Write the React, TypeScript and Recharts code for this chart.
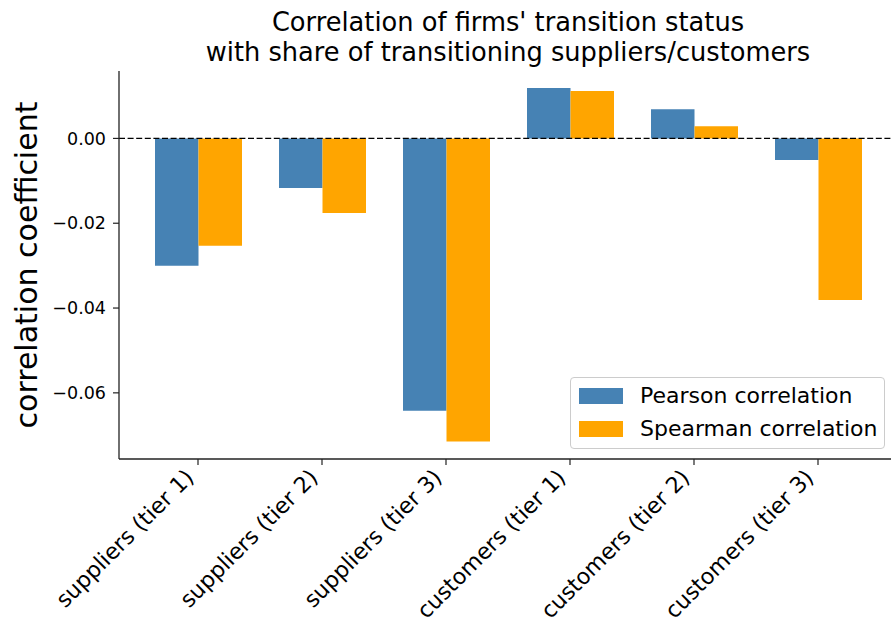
import { BarChart, Bar, XAxis, YAxis, ReferenceLine } from 'recharts';

const categories = [
  'suppliers (tier 1)',
  'suppliers (tier 2)',
  'suppliers (tier 3)',
  'customers (tier 1)',
  'customers (tier 2)',
  'customers (tier 3)',
];
const pearson = [-0.0300, -0.0117, -0.0642, 0.0119, 0.0069, -0.0051];
const spearman = [-0.0253, -0.0176, -0.0715, 0.0112, 0.0029, -0.0381];
const yTicks = [0, -0.02, -0.04, -0.06];
const yDomain = [-0.0756, 0.0159];
const seriesNames = ['Pearson correlation', 'Spearman correlation'];

const chartData = categories.map((name, i) => ({
  name,
  pearson: pearson[i],
  spearman: spearman[i],
}));

const FONT = '"DejaVu Sans", sans-serif';
const BLUE = '#4682b4';
const ORANGE = '#ffa500';

const fmtY = (v: number) => (v === 0 ? '0.00' : (v < 0 ? '\u2212' : '') + Math.abs(v).toFixed(2));

function CategoryTick({ x, y, payload }: any) {
  return (
    <text
      transform={`translate(${x - 3},${y + 14}) rotate(-45)`}
      textAnchor="end"
      fontFamily={FONT}
      fontSize={22.2}
      fill="#000"
    >
      {payload.value}
    </text>
  );
}

function LegendBox() {
  const colors = [BLUE, ORANGE];
  return (
    <div
      style={{
        position: 'absolute',
        left: 570,
        top: 377,
        width: 315,
        height: 72,
        border: '1px solid #cccccc',
        borderRadius: 4,
        background: 'rgba(255,255,255,0.8)',
        boxSizing: 'border-box',
        paddingTop: 2,
        fontFamily: FONT,
        fontSize: 22,
      }}
    >
      {seriesNames.map((label, i) => (
        <div key={label} style={{ display: 'flex', alignItems: 'center', height: 32.5 }}>
          <div style={{ width: 44, height: 16, background: colors[i], marginLeft: 8, marginRight: 17 }} />
          <span style={{ lineHeight: '32px', color: '#000' }}>{label}</span>
        </div>
      ))}
    </div>
  );
}

export default function App() {
  return (
    <div style={{ position: 'absolute', left: 0, top: 0, width: 891, height: 629, overflow: 'hidden', background: '#fff' }}>
      <div
        style={{
          position: 'absolute',
          left: 119,
          width: 778,
          top: 7,
          textAlign: 'center',
          fontFamily: FONT,
          fontSize: 25.7,
          lineHeight: '30px',
          color: '#000',
        }}
      >
        Correlation of firms' transition status
        <br />
        with share of transitioning suppliers/customers
      </div>
      <BarChart
        width={897}
        height={629}
        data={chartData}
        margin={{ top: 71, right: 0, bottom: 0, left: 0 }}
        barGap={0}
        barSize={43.5}
      >
        <XAxis
          dataKey="name"
          interval={0}
          height={170}
          padding={{ left: 17, right: 17 }}
          tick={<CategoryTick />}
          tickSize={6}
          tickMargin={0}
          axisLine={{ stroke: '#222', strokeWidth: 1.3 }}
          tickLine={{ stroke: '#222', strokeWidth: 1.2 }}
        />
        <XAxis
          xAxisId="top"
          orientation="top"
          dataKey="name"
          height={0}
          tick={false}
          tickLine={false}
          axisLine={{ stroke: '#222', strokeWidth: 1.3 }}
        />
        <YAxis
          type="number"
          domain={yDomain}
          allowDataOverflow
          ticks={yTicks}
          width={119}
          tickFormatter={fmtY}
          tickSize={6}
          tickMargin={7}
          tick={{ fontFamily: FONT, fontSize: 17.5, fill: '#000' }}
          axisLine={{ stroke: '#222', strokeWidth: 1.3 }}
          tickLine={{ stroke: '#222', strokeWidth: 1.2 }}
          label={{
            value: 'correlation coefficient',
            angle: -90,
            position: 'insideLeft',
            offset: 0,
            dx: 26,
            style: { fontFamily: FONT, fontSize: 30, fill: '#000', textAnchor: 'middle' },
          }}
        />
        <ReferenceLine y={0} stroke="#000" strokeWidth={1.3} strokeDasharray="6 2.6" />
        <Bar dataKey="pearson" name={seriesNames[0]} fill={BLUE} isAnimationActive={false} />
        <Bar dataKey="spearman" name={seriesNames[1]} fill={ORANGE} isAnimationActive={false} />
      </BarChart>
      <LegendBox />
    </div>
  );
}
